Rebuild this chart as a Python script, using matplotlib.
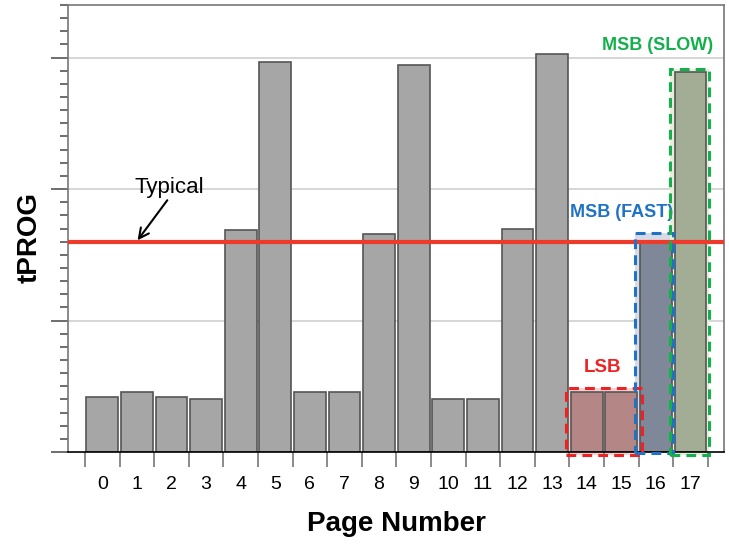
import matplotlib
matplotlib.use("Agg")
import matplotlib.pyplot as plt
from matplotlib.patches import Rectangle
from matplotlib.ticker import MultipleLocator, FixedLocator
import numpy as np

plt.rcParams['font.family'] = ['Liberation Sans', 'DejaVu Sans']

pages = list(range(18))
tprog = [4.2, 4.55, 4.2, 4.05, 16.9, 29.65, 4.6, 4.55, 16.6, 29.4,
         4.05, 4.05, 16.95, 30.25, 4.6, 4.6, 15.9, 28.9]
typical = 16.0
bar_colors = ['#a6a6a6'] * 14 + ['#b48686', '#b48686', '#7f8899', '#a3ad95']

fig = plt.figure(figsize=(7.29, 5.46), dpi=100)
ax = fig.add_axes([68/729, 1-452/546, (724-68)/729, (452-5)/546])

ax.set_xlim(-0.99, 17.97)
ax.set_ylim(0, 34)

# grid lines
for g in [10, 20, 30]:
    ax.axhline(g, color='#d0d0d0', lw=1.2, zorder=0)

# highlight boxes (fill behind bars)
boxes = [
    (13.4, -0.2, 2.2, 5.1, '#f7d0d0', '#ee2222'),
    (15.4, -0.1, 1.09, 16.75, '#d6dbe7', '#1f72c4'),
    (16.41, -0.2, 1.12, 29.3, '#e6f0d8', '#14b04c'),
]
for x0, y0, w, h, fc, ec in boxes:
    ax.add_patch(Rectangle((x0, y0), w, h, facecolor=fc, edgecolor='none',
                           zorder=1, clip_on=False))

ax.bar(pages, tprog, width=0.92, color=bar_colors, edgecolor='#555555',
       linewidth=1.2, zorder=2)

ax.axhline(typical, color='#ee3a2a', lw=3, zorder=3)

for x0, y0, w, h, fc, ec in boxes:
    ax.add_patch(Rectangle((x0, y0), w, h, facecolor='none', edgecolor=ec,
                           linestyle=(0, (3.2, 2)), linewidth=2.2, zorder=4,
                           clip_on=False))

ax.text(16.05, 30.95, 'MSB (SLOW)', color='#14b04c', fontsize=13,
        fontweight='bold', ha='center', va='center')
ax.text(15.0, 18.25, 'MSB (FAST)', color='#1f72c4', fontsize=13,
        fontweight='bold', ha='center', va='center')
ax.text(14.45, 6.4, 'LSB', color='#ee2222', fontsize=13.5,
        fontweight='bold', ha='center', va='center')

ax.text(1.95, 20.1, 'Typical', fontsize=16, ha='center', va='center')
ax.annotate('', xy=(1.02, 16.1), xytext=(1.88, 19.15),
            arrowprops=dict(arrowstyle='->', color='black', lw=1.5,
                            shrinkA=0, shrinkB=0, mutation_scale=18))

# spines
for s in ['top', 'right', 'left']:
    ax.spines[s].set_color('#777777')
    ax.spines[s].set_linewidth(1.2)
ax.spines['bottom'].set_color('black')
ax.spines['bottom'].set_linewidth(1.2)

# y ticks
ax.yaxis.set_major_locator(FixedLocator([0, 10, 20, 30]))
ax.yaxis.set_minor_locator(MultipleLocator(1))
ax.tick_params(axis='y', which='major', length=12, width=1.2, color='#555555',
               labelleft=False)
ax.tick_params(axis='y', which='minor', length=6, width=1.2, color='#555555')

# x ticks: labels at centres, tick marks at bar edges
ax.xaxis.set_major_locator(FixedLocator(pages))
ax.set_xticklabels([str(p) for p in pages])
ax.xaxis.set_minor_locator(FixedLocator(np.arange(-0.5, 18, 1.0)))
ax.tick_params(axis='x', which='major', length=0, pad=17, labelsize=14)
ax.tick_params(axis='x', which='minor', length=11, width=1.2, color='#777777')

fig.text(29.5/729, 1-237.5/546, 'tPROG', rotation=90, fontsize=20,
         fontweight='bold', ha='center', va='center')
fig.text(396/729, 1-524/546, 'Page Number', fontsize=20,
         fontweight='bold', ha='center', va='center')

fig.savefig('out.png', dpi=100)
